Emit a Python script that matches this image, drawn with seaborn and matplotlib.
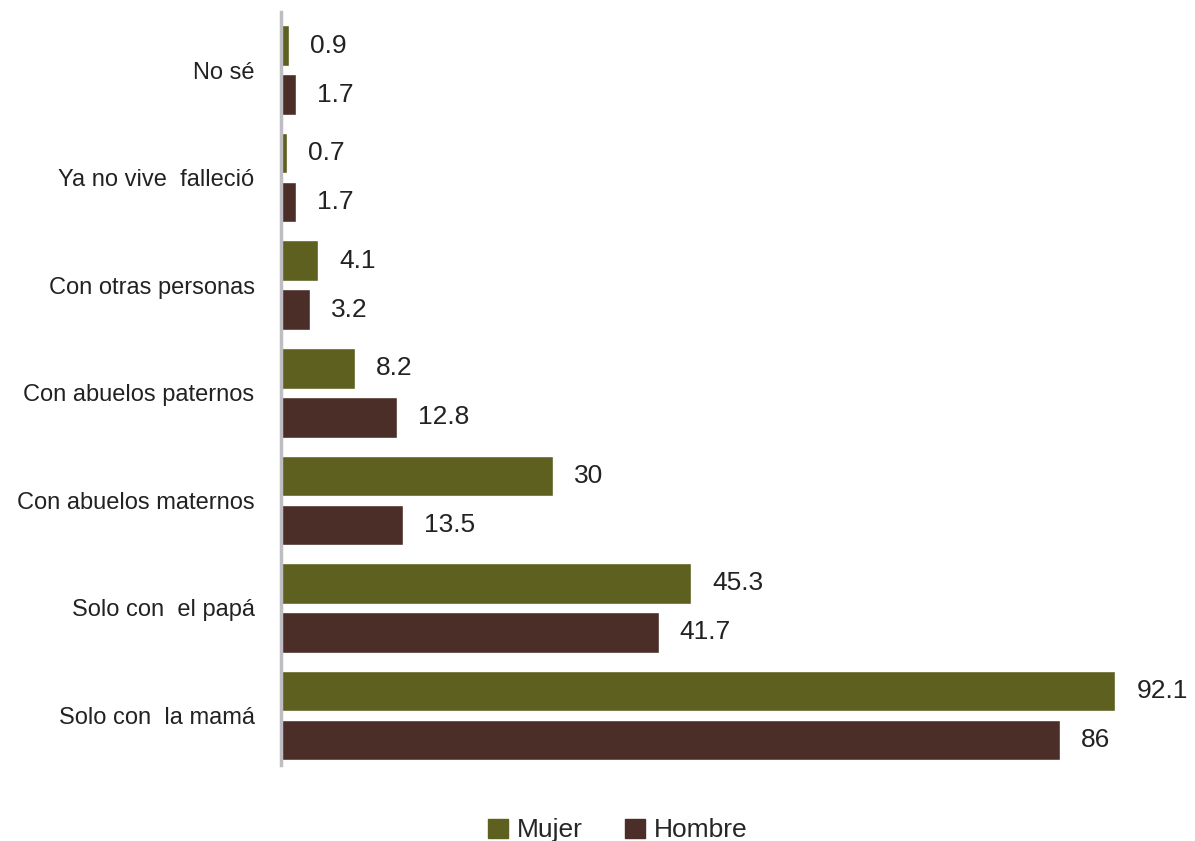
import pandas as pd
import seaborn as sns
import matplotlib.pyplot as plt
from matplotlib.patches import Patch

categories = ["No sé", "Ya no vive  falleció", "Con otras personas", "Con abuelos paternos",
              "Con abuelos maternos", "Solo con  el papá", "Solo con  la mamá"]
mujer = [0.9, 0.7, 4.1, 8.2, 30, 45.3, 92.1]
hombre = [1.7, 1.7, 3.2, 12.8, 13.5, 41.7, 86]
series = ["Mujer", "Hombre"]
colors = ["#5E601F", "#4B2E27"]

df = pd.DataFrame({
    "cat": categories * 2,
    "val": mujer + hombre,
    "sexo": ["Mujer"] * len(categories) + ["Hombre"] * len(categories),
})

sns.set_style("white")
plt.rcParams["font.family"] = ["Liberation Sans", "DejaVu Sans"]

fig = plt.figure(figsize=(11.95, 8.41), dpi=100)
ax = fig.add_axes([281 / 1195, 1 - 765 / 841, 906 / 1195, 753 / 841])

sns.barplot(data=df, x="val", y="cat", hue="sexo", order=categories, hue_order=series,
            palette=colors, width=0.91, gap=0.17, orient="h", ax=ax, legend=False,
            saturation=1)

for cont in ax.containers:
    ax.bar_label(cont, labels=[f"{v:g}" for v in cont.datavalues], padding=15,
                 fontsize=19, color="#222222")

ax.set_xlim(0, 100)
ax.set_ylim(6.46, -0.54)
ax.set_xlabel("")
ax.set_ylabel("")
ax.set_xticks([])
ax.tick_params(axis="y", length=0, pad=19, labelsize=17, labelcolor="#222222")
for s in ["top", "right", "bottom"]:
    ax.spines[s].set_visible(False)
ax.spines["left"].set_color("#BDBDC2")
ax.spines["left"].set_linewidth(2.5)

handles = [Patch(color=c, label=s) for c, s in zip(colors, series)]
fig.legend(handles=handles, loc="lower center", bbox_to_anchor=(0.517, -0.03), ncol=2,
           frameon=False, fontsize=19, handlelength=0.75, handleheight=0.75,
           handletextpad=0.35, columnspacing=1.6)

fig.savefig("out.png", dpi=100)
